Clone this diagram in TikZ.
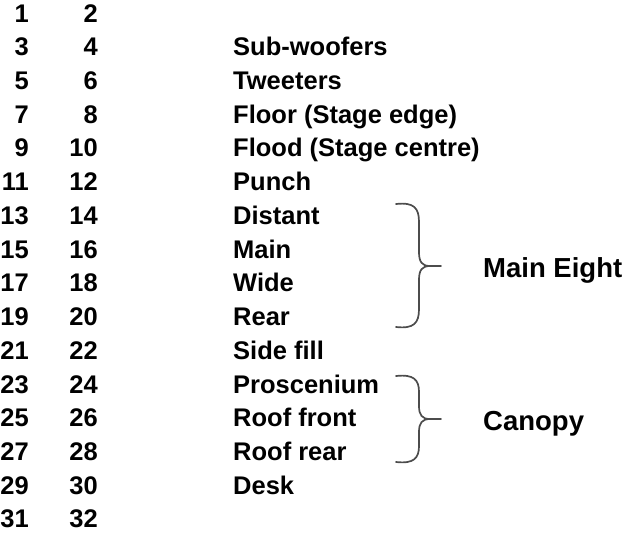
\documentclass[tikz,border=0pt]{standalone}
\usepackage{fontspec}
\setmainfont{Liberation Sans}
\begin{document}
\begin{tikzpicture}[x=1pt,y=-1pt,
  txt/.style={font=\fontsize{25.5}{28}\selectfont\bfseries, inner sep=0pt, text=black},
  bigtxt/.style={font=\fontsize{27.5}{30}\selectfont\bfseries, inner sep=0pt, text=black, anchor=base west},
  numa/.style={txt, anchor=base east},
  lab/.style={txt, anchor=base west},
  bracepath/.style={draw=black!70, line width=1.7pt, line cap=round, line join=round}]
\useasboundingbox (0,0) rectangle (629,539);
\def\rowy#1{22+33.73*(#1-1)}
\foreach \i in {1,...,16}{
  \pgfmathtruncatemacro{\a}{2*\i-1}
  \pgfmathtruncatemacro{\b}{2*\i}
  \node[numa] (n\a) at (29,{\rowy{\i}}) {\a};
  \node[numa] (n\b) at (98,{\rowy{\i}}) {\b};
}
\node[lab] (l2) at (233,{\rowy{2}}) {Sub-woofers};
\node[lab] (l3) at (233,{\rowy{3}}) {Tweeters};
\node[lab] (l4) at (233,{\rowy{4}}) {Floor (Stage edge)};
\node[lab] (l5) at (233,{\rowy{5}}) {Flood (Stage centre)};
\node[lab] (l6) at (233,{\rowy{6}}) {Punch};
\node[lab] (l7) at (233,{\rowy{7}}) {Distant};
\node[lab] (l8) at (233,{\rowy{8}}) {Main};
\node[lab] (l9) at (233,{\rowy{9}}) {Wide};
\node[lab] (l10) at (233,{\rowy{10}}) {Rear};
\node[lab] (l11) at (233,{\rowy{11}}) {Side fill};
\node[lab] (l12) at (233,{\rowy{12}}) {Proscenium};
\node[lab] (l13) at (233,{\rowy{13}}) {Roof front};
\node[lab] (l14) at (233,{\rowy{14}}) {Roof rear};
\node[lab] (l15) at (233,{\rowy{15}}) {Desk};
\node[bigtxt] (main) at (483,277) {Main Eight};
\node[bigtxt] (canopy) at (483,430) {Canopy};
% brace 1
\path[bracepath] (396,204) .. controls (414,202) and (419,208) .. (419,222)
  -- (419,252) .. controls (419,262) and (422,266) .. (430,266) -- (441,266);
\path[bracepath] (396,327) .. controls (414,329) and (419,323) .. (419,309)
  -- (419,280) .. controls (419,270) and (422,266) .. (430,266);
% brace 2
\path[bracepath] (396,376) .. controls (414,374) and (419,380) .. (419,392)
  -- (419,406) .. controls (419,415) and (422,419) .. (430,419) -- (441,419);
\path[bracepath] (396,462) .. controls (414,464) and (419,458) .. (419,446)
  -- (419,432) .. controls (419,423) and (422,419) .. (430,419);
\end{tikzpicture}
\end{document}
